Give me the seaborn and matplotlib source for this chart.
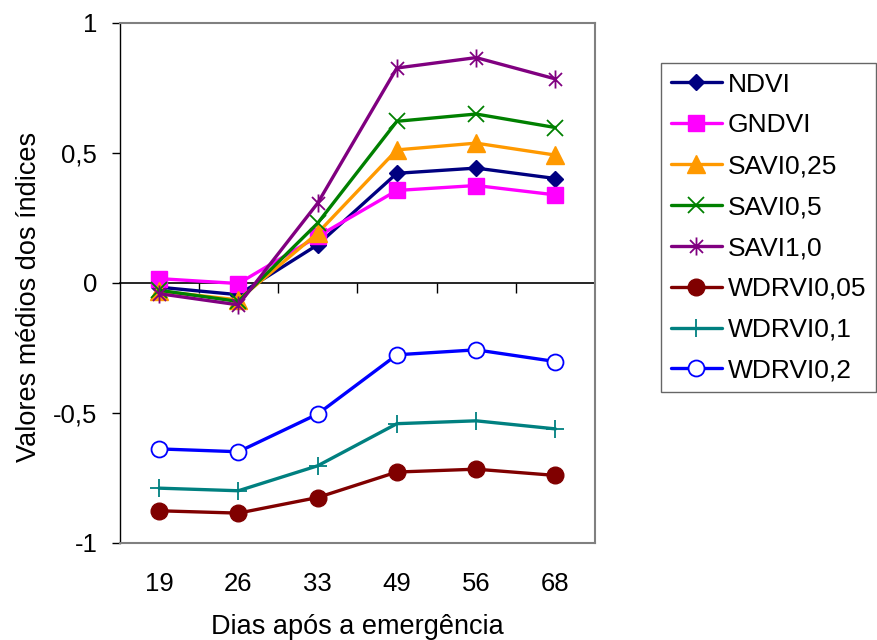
import numpy as np
import pandas as pd
import matplotlib
matplotlib.use("Agg")
import matplotlib.pyplot as plt
from matplotlib.path import Path
import seaborn as sns

days = ["19", "26", "33", "49", "56", "68"]
ndvi = [-0.018, -0.047, 0.145, 0.42, 0.44, 0.40]
gndvi = [0.015, -0.004, 0.177, 0.354, 0.373, 0.337]
savi025 = [-0.033, -0.067, 0.19, 0.51, 0.536, 0.49]
savi05 = [-0.03, -0.073, 0.228, 0.62, 0.648, 0.596]
savi10 = [-0.043, -0.086, 0.305, 0.825, 0.865, 0.783]
wdrvi005 = [-0.878, -0.887, -0.827, -0.729, -0.718, -0.742]
wdrvi01 = [-0.791, -0.801, -0.705, -0.543, -0.532, -0.563]
wdrvi02 = [-0.64, -0.651, -0.506, -0.278, -0.259, -0.304]

series_names = ["NDVI", "GNDVI", "SAVI0,25", "SAVI0,5", "SAVI1,0",
                "WDRVI0,05", "WDRVI0,1", "WDRVI0,2"]
series_vals = [ndvi, gndvi, savi025, savi05, savi10, wdrvi005, wdrvi01, wdrvi02]
yticks = [-1, -0.5, 0, 0.5, 1]
ytick_labels = ["-1", "-0,5", "0", "0,5", "1"]
ygrid = [-0.5, 0.5]

asterisk = Path([(0, -1), (0, 1), (-0.72, -0.72), (0.72, 0.72), (-0.72, 0.72), (0.72, -0.72)],
                [Path.MOVETO, Path.LINETO, Path.MOVETO, Path.LINETO, Path.MOVETO, Path.LINETO])

styles = [
    dict(color="#000080", marker="D", markersize=8.5, mfc="#000080", mew=1),
    dict(color="#FF00FF", marker="s", markersize=11.5, mfc="#FF00FF", mew=1),
    dict(color="#FF9900", marker="^", markersize=13, mfc="#FF9900", mew=1),
    dict(color="#008000", marker="x", markersize=12, mfc="none", mew=1.3),
    dict(color="#800080", marker=asterisk, markersize=13, mfc="none", mew=1.3),
    dict(color="#800000", marker="o", markersize=12, mfc="#800000", mew=1),
    dict(color="#008080", marker="+", markersize=13, mfc="none", mew=1.3),
    dict(color="#0000FF", marker="o", markersize=11.5, mfc="white", mew=1.3),
]

sns.set_style("white")
plt.rcParams["font.family"] = ["Liberation Sans", "DejaVu Sans"]
for k in ["text.color", "axes.labelcolor", "xtick.color", "ytick.color"]:
    plt.rcParams[k] = "black"

fig = plt.figure(figsize=(8.77, 6.4), dpi=100)
fig.patch.set_facecolor("white")
ax = fig.add_axes([119.5 / 877, 1 - 542.5 / 640, 475.5 / 877, 520 / 640])

for name, vals, st in zip(series_names, series_vals, styles):
    df = pd.DataFrame({"dia": days, "valor": vals})
    sns.lineplot(data=df, x="dia", y="valor", ax=ax, label=name, color=st["color"],
                 marker=st["marker"], markersize=st["markersize"],
                 markerfacecolor=st["mfc"], markeredgecolor=st["color"],
                 markeredgewidth=st["mew"], linewidth=2.4, sort=False, zorder=3)

ax.set_xlim(-0.5, len(days) - 0.5)
ax.set_ylim(-1, 1)
ax.set_yticks(yticks)
ax.set_yticklabels(ytick_labels)
ax.set_yticks(ygrid, minor=True)
ax.set_xticks(range(len(days)))
ax.set_xticklabels(days)
ax.tick_params(axis="x", length=0, pad=21, labelsize=18.5)
ax.tick_params(axis="y", which="major", length=6, width=1, direction="out", pad=10,
               labelsize=18.5, color="black", left=True)
ax.tick_params(axis="y", which="minor", length=0)
ax.yaxis.grid(False, which="major")
ax.yaxis.grid(True, which="minor", color="#c8c8c8", linewidth=1)
ax.xaxis.grid(False)
ax.set_axisbelow(True)
for s in ["top", "right", "bottom"]:
    ax.spines[s].set_color("#808080")
    ax.spines[s].set_linewidth(1.5)
ax.spines["left"].set_color("black")
ax.spines["left"].set_linewidth(1)

ax.set_xlabel("Dias após a emergência", fontsize=19.5, labelpad=13)
ax.set_ylabel("Valores médios dos índices", fontsize=19.5)
ax.yaxis.set_label_coords(-0.163, 0.473)

# zero-crossing category axis with tick marks between categories
ax2 = ax.twiny()
ax2.set_xlim(ax.get_xlim())
ax2.xaxis.set_ticks_position("bottom")
ax2.spines["bottom"].set_position(("data", 0))
ax2.spines["bottom"].set_color("black")
ax2.spines["bottom"].set_linewidth(1.2)
for s in ["top", "left", "right"]:
    ax2.spines[s].set_visible(False)
ax2.set_xticks(np.arange(0.5, len(days) - 0.5, 1.0))
ax2.set_xticklabels([])
ax2.tick_params(axis="x", length=7, width=1, direction="out", color="black")
ax2.set_zorder(ax.get_zorder() - 1)
ax.patch.set_visible(False)

leg = ax.legend(loc="upper left", bbox_to_anchor=(661 / 877, 1 - 63 / 640),
                bbox_transform=fig.transFigure, fontsize=19, frameon=True,
                fancybox=False, shadow=False, handlelength=1.95, handletextpad=0.22,
                labelspacing=0.64, borderpad=0.36, borderaxespad=0)
leg.get_frame().set_edgecolor("#404040")
leg.get_frame().set_linewidth(1)

fig.savefig("out.png", dpi=100, facecolor="white")
